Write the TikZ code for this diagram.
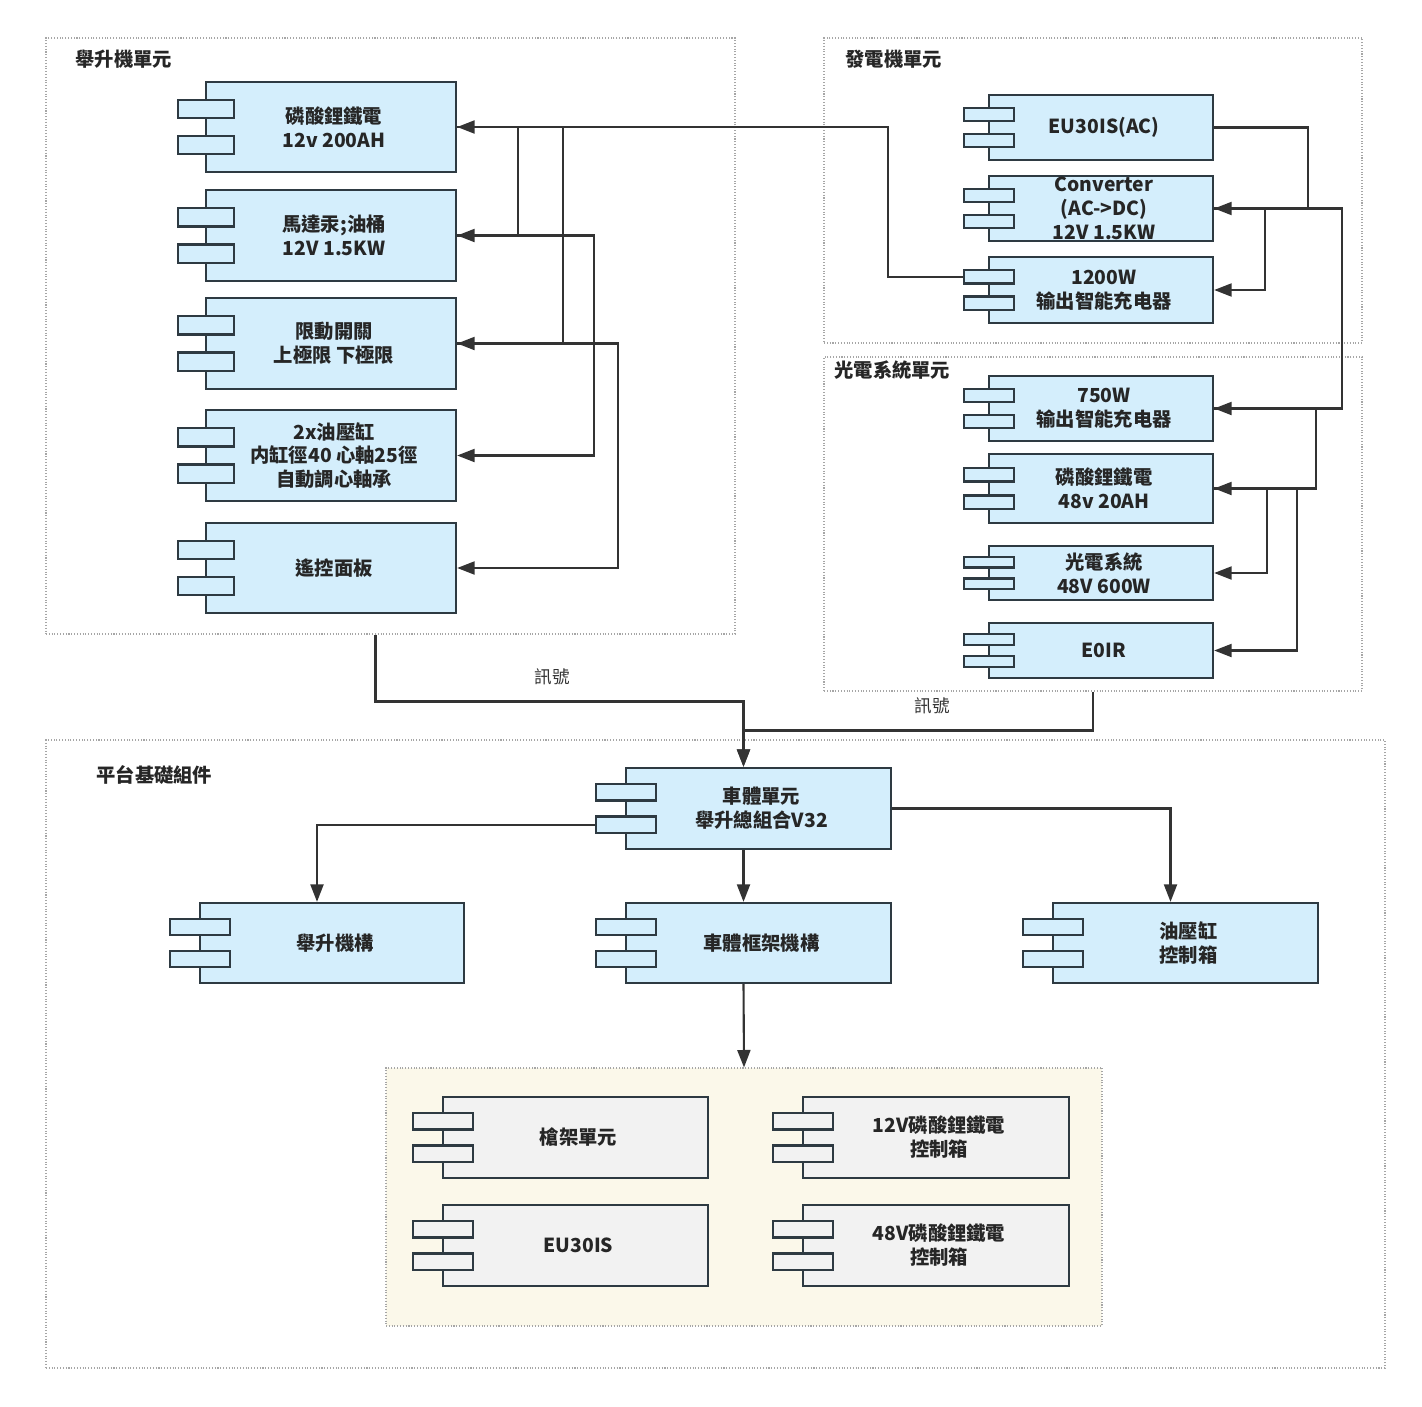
\documentclass[tikz,border=0pt]{standalone}
\usepackage{fontspec}
\setmainfont{Noto Sans CJK TC}
\usetikzlibrary{arrows.meta,fit}

\definecolor{compfill}{HTML}{D4EEFC}
\definecolor{compline}{HTML}{2E3A42}
\definecolor{greyfill}{HTML}{F2F2F2}
\definecolor{linkline}{HTML}{333333}
\definecolor{grpline}{HTML}{A6A6A6}
\definecolor{grpfill}{HTML}{FBF8EA}

% component: body from (x1,y1) to (x2,y2), two ports on the left edge
\newcommand{\component}[7][compbox]{%
  \node[#1, fit={(#3,#4) (#5,#6)}] (#2) {};
  \pgfmathsetmacro{\portw}{0.1125*(#5-#3)}%
  \pgfmathsetmacro{\porth}{0.2*(#6-#4)}%
  \node[#1, fit={(#3-\portw,#4+\porth) (#3+\portw,#4+2*\porth)}] (#2-a) {};
  \node[#1, fit={(#3-\portw,#4+3*\porth) (#3+\portw,#4+4*\porth)}] (#2-b) {};
  \node[boxtext] (#2-t) at ([xshift=0.06cm]#2.center) {#7};
}

\begin{document}
\begin{tikzpicture}[x=0.02cm, y=-0.02cm,
  compbox/.style={draw=compline, line width=1.3pt, fill=compfill, inner sep=0pt},
  greybox/.style={compbox, fill=greyfill},
  group/.style={draw=grpline, densely dotted, line width=0.6pt, inner sep=0pt},
  grouplabel/.style={anchor=west, inner sep=0pt, font=\bfseries\fontsize{11}{13}\selectfont, text=black!85},
  boxtext/.style={align=center, font=\bfseries\fontsize{11}{13.6}\selectfont, text=black!85},
  link/.style={draw=linkline, line width=1.2pt, -{Triangle[length=0.35cm,width=0.26cm]}},
  siglabel/.style={font=\fontsize{10}{12}\selectfont, text=black!80}]

    \useasboundingbox (0,0) rectangle (1422,1406);

    % Group frames
    \node[group, fit={(46,38) (735,634)}] (liftgrp) {};
    \node[group, fit={(824,38) (1362,343)}] (gengrp) {};
    \node[group, fit={(824,357) (1362,691)}] (pvgrp) {};
    \node[group, fit={(46,740) (1385,1368)}] (basegrp) {};
    \node[group, fill=grpfill, fit={(386,1068) (1102,1326)}] (stockgrp) {};

    % Group titles
    \node[grouplabel] (liftlbl) at (75,59) {舉升機單元};
    \node[grouplabel] (genlbl) at (845,59) {發電機單元};
    \node[grouplabel] (pvlbl) at (834,370) {光電系統單元};
    \node[grouplabel] (baselbl) at (96,775) {平台基礎組件};

    % Lift unit
    \component{bat12}{206}{82}{456}{172}{磷酸鋰鐵電\\12v 200AH}
    \component{motor}{206}{190}{456}{281}{馬達汞;油桶\\12V 1.5KW}
    \component{limit}{206}{298}{456}{389}{限動開關\\上極限 下極限}
    \component{cyl}{206}{410}{456}{501}{2x油壓缸\\内缸徑40 心軸25徑\\自動調心軸承}
    \component{remote}{206}{523}{456}{613}{遙控面板}

    % Generator unit
    \component{eu30ac}{989}{95}{1213}{160}{EU30IS(AC)}
    \component{conv}{989}{176}{1213}{241}{Converter\\(AC->DC)\\12V 1.5KW}
    \component{chgA}{989}{257}{1213}{323}{1200W\\输出智能充电器}

    % Electro-optical unit
    \component{chgB}{989}{376}{1213}{441}{750W\\输出智能充电器}
    \component{bat48}{989}{454}{1213}{523}{磷酸鋰鐵電\\48v 20AH}
    \component{pv}{989}{546}{1213}{600}{光電系統\\48V 600W}
    \component{eoir}{989}{623}{1213}{678}{E0IR}

    % Platform base
    \component{car}{626}{768}{891}{849}{車體單元\\舉升總組合V32}
    \component{liftm}{200}{903}{464}{983}{舉升機構}
    \component{frame}{626}{903}{891}{983}{車體框架機構}
    \component{hyd}{1053}{903}{1318}{983}{油壓缸\\控制箱}
    \component[greybox]{gun}{443}{1097}{708}{1178}{槍架單元}
    \component[greybox]{ctl12}{803}{1097}{1069}{1178}{12V磷酸鋰鐵電\\控制箱}
    \component[greybox]{eu30}{443}{1205}{708}{1286}{EU30IS}
    \component[greybox]{ctl48}{803}{1205}{1069}{1286}{48V磷酸鋰鐵電\\控制箱}

    % Power lines inside the lift unit
    \draw[link] (chgA-a.west) -- ++(-75,0) |- (bat12.east);
    \draw[link] (bat12.east) -- ++(61,0) |- (motor.east);
    \draw[link] (bat12.east) -- ++(106,0) |- (limit.east);
    \draw[link] (motor.east) -- ++(137,0) |- (cyl.east);
    \draw[link] (limit.east) -- ++(161,0) |- (remote.east);

    % Power lines on the right
    \draw[link] (eu30ac.east) -- ++(94,0) |- (conv.east);
    \draw[link] (conv.east) -- ++(51,0) |- (chgA.east);
    \draw[link] (conv.east) -- ++(128,0) |- (chgB.east);
    \draw[link] (chgB.east) -- ++(102,0) |- (bat48.east);
    \draw[link] (bat48.east) -- ++(53,0) |- (pv.east);
    \draw[link] (bat48.east) -- ++(83,0) |- (eoir.east);

    % Signals down to the car body
    \draw[link] ([xshift=-0.3cm]liftgrp.south) -- ++(0,67)
        -| node[pos=0.24, above=0.2cm, siglabel] (sig1) {訊號} ([xshift=-0.3cm]car.north);
    \draw[link] (pvgrp.south) -- ++(0,39)
        -| node[pos=0.23, above=0.2cm, siglabel] (sig2) {訊號} ([xshift=-0.3cm]car.north);

    % Platform tree
    \draw[link] (car-b.west) -| ([xshift=-0.3cm]liftm.north);
    \draw[link] (car.east) -| ([xshift=-0.3cm]hyd.north);
    \draw[link] ([xshift=-0.3cm]car.south) -- ([xshift=-0.3cm]frame.north);
    \draw[link] ([xshift=-0.3cm]frame.south) -- (stockgrp.north);

\end{tikzpicture}
\end{document}
